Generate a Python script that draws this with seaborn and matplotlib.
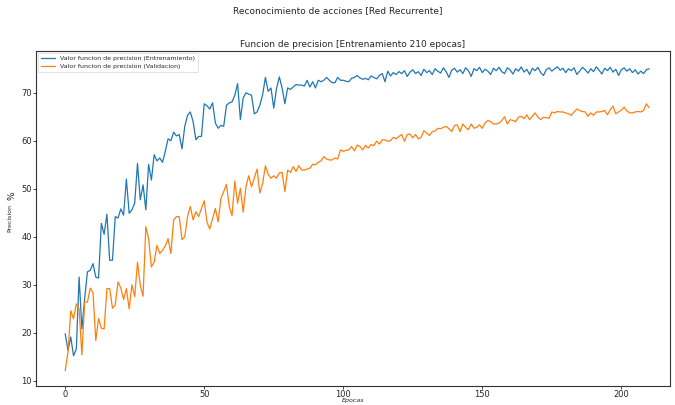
import numpy as np
import pandas as pd
import matplotlib
matplotlib.use("Agg")
import matplotlib.pyplot as plt
import seaborn as sns

train_acc = [
    19.8, 16.3, 19.1, 15.2, 16.6, 31.6, 20.8, 27.1, 32.7, 33.0,
    34.4, 31.6, 31.4, 42.8, 40.5, 44.7, 35.1, 35.1, 44.2, 43.9,
    45.8, 44.5, 52.0, 44.9, 45.6, 47.0, 55.3, 47.7, 50.8, 45.6,
    55.1, 51.8, 57.1, 55.8, 56.4, 55.5, 57.8, 60.4, 60.0, 61.8,
    61.0, 61.3, 58.3, 63.0, 65.3, 66.0, 64.0, 60.2, 60.9, 60.9,
    67.7, 67.3, 66.6, 67.9, 63.7, 62.6, 63.2, 63.0, 67.4, 67.9,
    68.1, 69.5, 71.9, 64.4, 68.9, 70.0, 69.7, 69.5, 65.6, 66.0,
    67.4, 69.6, 73.2, 70.3, 71.0, 66.8, 70.9, 73.3, 71.0, 67.7,
    71.0, 70.7, 71.2, 71.7, 71.6, 71.6, 71.4, 72.6, 71.2, 72.3,
    71.0, 72.6, 72.3, 72.6, 73.2, 72.6, 72.1, 72.1, 73.2, 72.6,
    72.6, 72.4, 72.3, 73.0, 73.2, 73.6, 73.1, 72.8, 73.0, 72.7,
    73.5, 73.2, 72.9, 73.6, 74.0, 72.3, 74.5, 73.5, 74.2, 73.8,
    74.4, 74.0, 74.6, 73.4, 74.3, 74.8, 74.0, 74.4, 73.6, 74.9,
    74.2, 74.6, 73.8, 75.0, 74.5, 74.1, 75.2, 74.4, 73.2, 74.7,
    75.1, 74.3, 74.8, 74.0, 75.2, 74.6, 73.4, 75.0, 74.6, 75.3,
    74.2, 74.9, 74.5, 73.8, 75.1, 74.6, 75.3, 74.4, 74.0, 75.2,
    74.8, 73.9, 75.0, 74.5, 75.4, 74.3, 74.9, 73.8, 75.1, 74.6,
    75.3, 74.2, 73.6, 74.8, 75.2, 74.5, 75.0, 75.4, 74.7, 75.1,
    74.2, 75.0, 74.6, 75.2, 73.8, 74.5, 75.3, 74.8, 74.1, 75.0,
    74.4, 75.4, 74.7, 73.9, 75.1, 74.6, 75.3, 74.3, 74.9, 73.6,
    74.8, 75.2, 74.5, 75.0, 74.2, 74.8, 73.9, 74.5, 74.0, 74.8,
    75.0,
]

val_acc = [
    12.1, 15.9, 24.6, 22.9, 26.0, 25.0, 15.4, 26.4, 26.4, 29.3,
    28.3, 18.4, 23.0, 20.9, 20.8, 29.2, 29.2, 25.1, 25.8, 30.6,
    29.3, 26.9, 29.2, 25.0, 30.0, 27.5, 34.7, 29.9, 27.6, 42.1,
    39.6, 33.7, 34.7, 38.2, 36.5, 37.2, 38.1, 39.6, 36.5, 43.5,
    44.2, 44.2, 39.4, 40.0, 44.2, 46.3, 43.5, 45.2, 44.2, 45.9,
    47.5, 43.0, 41.6, 43.8, 45.9, 43.1, 48.0, 49.4, 50.9, 46.3,
    44.4, 51.6, 47.0, 50.1, 45.1, 50.4, 52.7, 50.4, 52.2, 54.1,
    49.1, 51.1, 54.8, 53.0, 52.2, 52.7, 52.2, 53.3, 53.4, 49.4,
    53.9, 53.4, 54.6, 53.6, 54.8, 53.9, 53.9, 54.1, 54.3, 55.1,
    55.0, 55.5, 55.8, 56.7, 56.2, 56.0, 56.0, 56.4, 56.2, 58.1,
    57.8, 58.0, 58.1, 58.8, 57.9, 59.1, 58.8, 58.1, 59.0, 58.5,
    59.2, 59.0, 59.9, 59.3, 60.2, 60.2, 59.9, 60.0, 60.7, 60.4,
    60.9, 61.3, 59.9, 61.3, 61.4, 60.6, 61.3, 60.4, 60.7, 62.1,
    61.6, 61.1, 61.9, 62.0, 62.6, 62.5, 62.8, 63.0, 62.5, 61.9,
    63.2, 63.3, 61.9, 63.5, 62.8, 62.3, 63.5, 62.6, 62.8, 63.3,
    62.6, 63.7, 64.2, 64.0, 63.5, 63.5, 63.7, 64.2, 65.0, 63.5,
    64.4, 64.2, 64.0, 64.9, 65.1, 64.6, 65.4, 64.4, 65.1, 65.8,
    64.9, 64.4, 64.9, 64.8, 64.7, 66.0, 65.8, 66.1, 66.0, 66.0,
    65.8, 65.6, 65.3, 66.0, 66.6, 66.3, 66.1, 66.0, 65.1, 65.8,
    65.3, 66.0, 66.0, 66.1, 66.3, 65.4, 66.5, 67.2, 65.6, 66.0,
    66.4, 67.0, 66.2, 65.8, 65.8, 66.0, 66.1, 66.0, 66.3, 67.7,
    66.9,
]

series_names = ["Valor funcion de precision (Entrenamiento)",
                "Valor funcion de precision (Validacion)"]
epochs = list(range(len(train_acc)))

df = pd.DataFrame({
    "Epoca": epochs + epochs,
    "Valor": train_acc + val_acc,
    "Serie": [series_names[0]] * len(train_acc) + [series_names[1]] * len(val_acc),
})

sns.set_style("ticks")
plt.rcParams["font.family"] = ["DejaVu Sans"]

fig = plt.figure(figsize=(6.75, 4.05), dpi=100)
ax = fig.add_axes([36 / 675, 1 - 386 / 405, (670 - 36) / 675, (386 - 51) / 405])

sns.lineplot(data=df, x="Epoca", y="Valor", hue="Serie",
             palette=["#1f77b4", "#ff7f0e"], linewidth=0.9, ax=ax)

ax.set_xlim(-10.5, 217.5)
ax.set_ylim(8.9, 78.7)
ax.set_xticks([0, 50, 100, 150, 200])
ax.set_yticks([10, 20, 30, 40, 50, 60, 70])
ax.tick_params(labelsize=6, length=2, width=0.6, pad=1)
for s in ax.spines.values():
    s.set_linewidth(0.8)
    s.set_color("#333333")

ax.set_xlabel("Epocas", fontsize=4.6, style="italic", labelpad=-0.5)
ax.set_ylabel("Precision", fontsize=4.5, labelpad=6)
fig.text(12 / 675, 1 - 196 / 405, "%", rotation=90, fontsize=6.5,
         ha="center", va="center")
ax.set_title("Funcion de precision [Entrenamiento 210 epocas]", fontsize=6.5, pad=3)
fig.suptitle("Reconocimiento de acciones [Red Recurrente]", fontsize=6.5, y=0.985)

leg = ax.legend(loc="upper left", fontsize=4.5, frameon=True, handlelength=2.2,
                borderpad=0.5, labelspacing=0.4, borderaxespad=0.3)
leg.get_frame().set_linewidth(0.5)
leg.get_frame().set_edgecolor("#cccccc")
leg.set_title(None)

fig.savefig("out.png", dpi=100)
